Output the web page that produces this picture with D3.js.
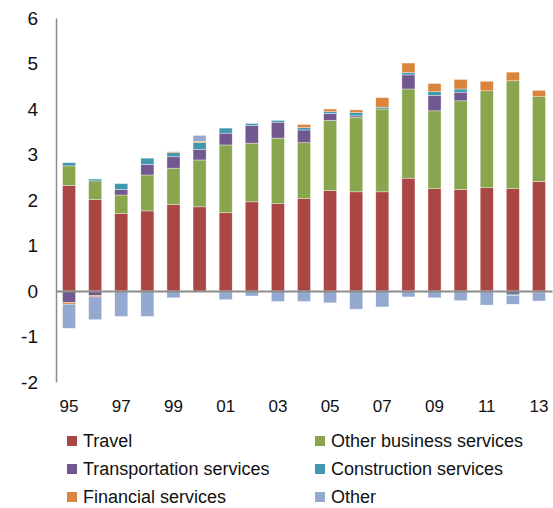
<!DOCTYPE html>
<html>
<head>
<meta charset="utf-8">
<script src="https://cdn.jsdelivr.net/npm/d3@7"></script>
<style>
  html, body { margin: 0; padding: 0; background: #fff; }
  svg { display: block; font-family: "Liberation Sans", Arial, sans-serif; }
</style>
</head>
<body>
<svg id="chart" width="553" height="508"></svg>
<script>
// Years (two-digit labels) on the category axis
const years = ["95","96","97","98","99","00","01","02","03","04","05","06","07","08","09","10","11","12","13"];
const tickYears = ["95","97","99","01","03","05","07","09","11","13"];
const yTicks = [-2, -1, 0, 1, 2, 3, 4, 5, 6];

// Contributions by service category
const travel         = [2.32, 2.01, 1.70, 1.76, 1.90, 1.85, 1.72, 1.96, 1.92, 2.03, 2.21, 2.18, 2.18, 2.48, 2.25, 2.23, 2.27, 2.25, 2.41];
const otherBusiness  = [0.43, 0.41, 0.41, 0.79, 0.80, 1.03, 1.49, 1.29, 1.44, 1.23, 1.54, 1.64, 1.82, 1.96, 1.71, 1.95, 2.13, 2.37, 1.86];
const transportation = [-0.25, -0.10, 0.12, 0.23, 0.25, 0.23, 0.26, 0.39, 0.35, 0.28, 0.15, 0.03, 0.00, 0.31, 0.34, 0.19, 0.00, -0.07, -0.04];
const construction   = [0.07, 0.04, 0.13, 0.14, 0.09, 0.15, 0.11, 0.04, 0.04, 0.05, 0.04, 0.07, 0.04, 0.05, 0.08, 0.07, 0.00, -0.03, 0.00];
const financial      = [-0.04, -0.03, 0.00, 0.00, 0.02, 0.03, -0.02, 0.00, 0.00, 0.07, 0.06, 0.06, 0.21, 0.21, 0.18, 0.21, 0.21, 0.19, 0.14];
const other          = [-0.53, -0.50, -0.56, -0.56, -0.15, 0.13, -0.17, -0.11, -0.23, -0.23, -0.26, -0.40, -0.35, -0.13, -0.15, -0.21, -0.31, -0.19, -0.18];

const seriesNames = ["Travel", "Other business services", "Transportation services", "Construction services", "Financial services", "Other"];
const seriesColors = ["#AA4643", "#89A54E", "#71588F", "#4198AF", "#DB843D", "#93A9CF"];
const seriesValues = [travel, otherBusiness, transportation, construction, financial, other];

// Row table for d3.stack
const rows = years.map((yr, i) => {
  const r = { year: yr };
  seriesNames.forEach((n, k) => { r[n] = seriesValues[k][i]; });
  return r;
});

const svg = d3.select("#chart");

const x = d3.scaleBand()
  .domain(years)
  .range([56, 552])
  .paddingInner(0.5)
  .paddingOuter(0.25);

const y = d3.scaleLinear()
  .domain([-2, 6])
  .range([382, 18]);

const stacked = d3.stack()
  .keys(seriesNames)
  .offset(d3.stackOffsetDiverging)(rows);

// Bars
svg.append("g")
  .selectAll("g")
  .data(stacked)
  .join("g")
  .attr("fill", (d, i) => seriesColors[i])
  .selectAll("rect")
  .data(d => d)
  .join("rect")
  .attr("x", d => x(d.data.year))
  .attr("width", x.bandwidth())
  .attr("y", d => y(Math.max(d[0], d[1])))
  .attr("height", d => Math.abs(y(d[0]) - y(d[1])))
  .attr("stroke", "#ffffff")
  .attr("stroke-opacity", 0.6)
  .attr("stroke-width", 0.6);

// Y axis: line only, labels on the left
const yAxis = svg.append("g")
  .attr("transform", "translate(56,0)")
  .call(d3.axisLeft(y).tickValues(yTicks).tickSize(0).tickPadding(18).tickFormat(d => String(d)));
yAxis.select(".domain").attr("stroke", "#8c8c8c").attr("stroke-width", 1.5);
yAxis.selectAll("text")
  .attr("font-size", 19)
  .attr("fill", "#111")
  .attr("font-family", "Liberation Sans, Arial, sans-serif");

// Zero baseline with category labels below the plot
const xAxis = svg.append("g")
  .attr("transform", `translate(0,${y(0)})`)
  .call(d3.axisBottom(x).tickValues([]).tickSize(0).tickSizeOuter(0));
xAxis.select(".domain").attr("stroke", "#8c8c8c").attr("stroke-width", 2);

svg.append("g")
  .selectAll("text")
  .data(tickYears)
  .join("text")
  .attr("x", d => x(d) + x.bandwidth() / 2)
  .attr("y", 412)
  .attr("text-anchor", "middle")
  .attr("font-size", 17)
  .attr("fill", "#111")
  .text(d => d);

// Legend: two columns, three rows
const legend = svg.append("g");
const legendItems = legend.selectAll("g")
  .data(seriesNames)
  .join("g")
  .attr("transform", (d, i) => `translate(${i % 2 === 0 ? 67 : 315},${441 + Math.floor(i / 2) * 28})`);
legendItems.append("rect")
  .attr("x", 0).attr("y", -5)
  .attr("width", 10).attr("height", 10)
  .attr("fill", (d, i) => seriesColors[i]);
legendItems.append("text")
  .attr("x", 16)
  .attr("y", 0)
  .attr("dy", "0.35em")
  .attr("font-size", 18)
  .attr("fill", "#111")
  .text(d => d);
</script>
</body>
</html>
